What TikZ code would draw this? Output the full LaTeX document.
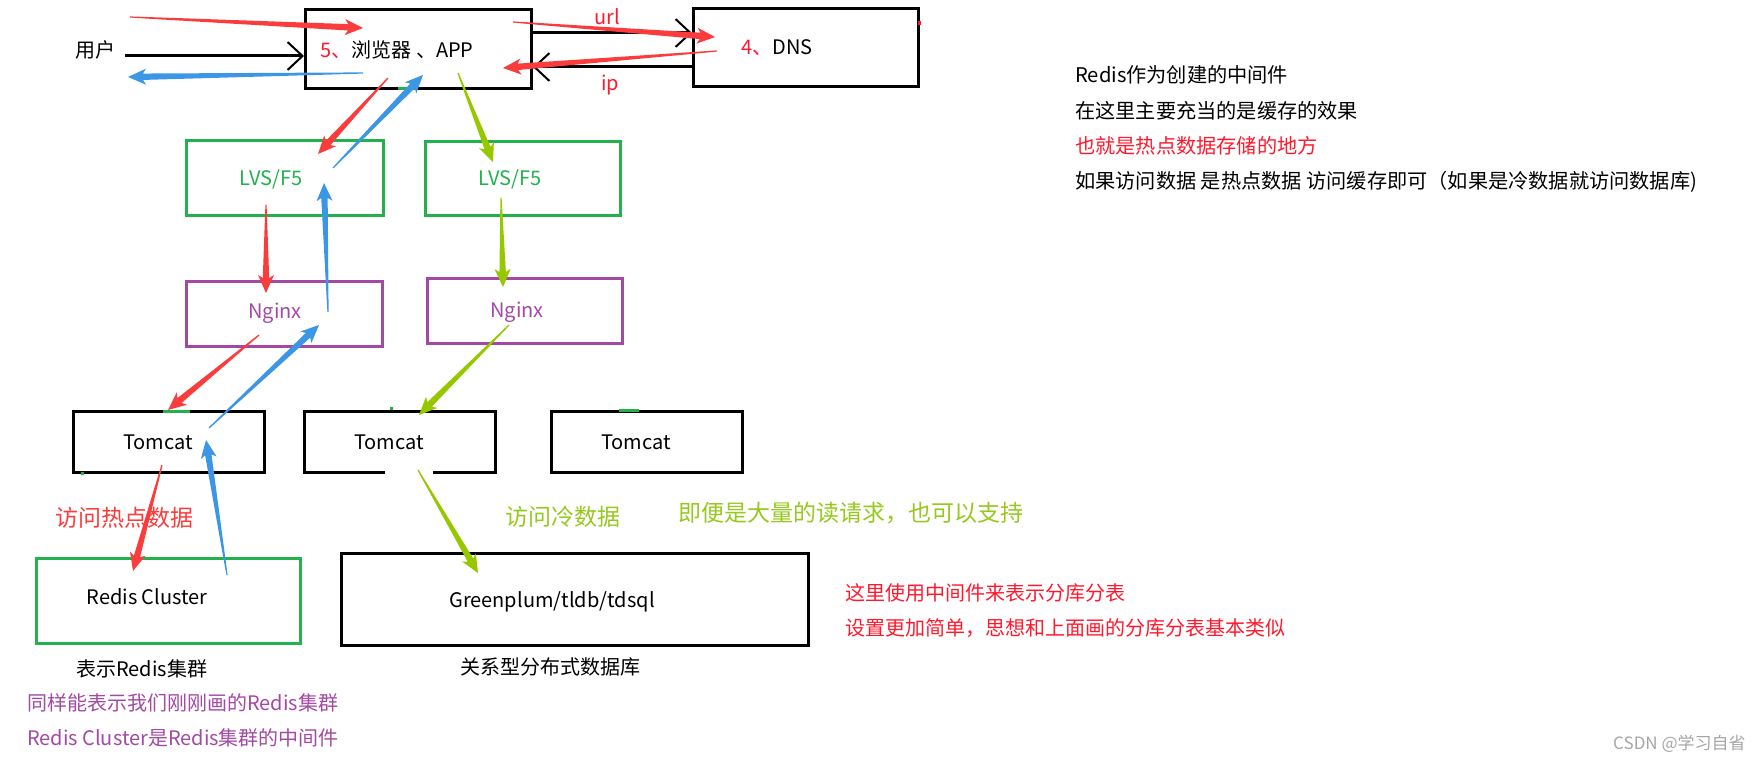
\documentclass[tikz,border=0pt]{standalone}
\usepackage{fontspec}
\setmainfont{Noto Sans CJK SC}
\usepackage{xcolor}
\usepackage{tikz}
\usetikzlibrary{arrows.meta,calc}
\definecolor{arR}{RGB}{250,60,60}
\definecolor{arB}{RGB}{60,150,230}
\definecolor{arG}{RGB}{150,200,0}
\definecolor{txR}{RGB}{255,25,45}
\definecolor{txG}{RGB}{150,200,30}
\definecolor{boxG}{RGB}{34,177,76}
\definecolor{boxP}{RGB}{163,73,164}
\definecolor{gry}{RGB}{165,165,165}
\tikzset{
  box/.style={draw,line width=3pt,inner sep=0},
  lbl/.style={inner sep=0,font=\fontsize{20}{24}\selectfont,text height=15pt,text depth=0pt},
  note/.style={lbl,anchor=west,font=\fontsize{20.2}{24}\selectfont},
  big/.style={lbl,anchor=west,font=\fontsize{23}{27}\selectfont,text height=17pt},
  barb/.style={line width=3pt,-{Straight Barb[length=15pt,width=28pt,line width=2pt]}}
}
% tapered arrow: colour, tail, tip
\newcommand\tailarrow[3]{%
  \path (#2) coordinate (ta) (#3) coordinate (tb);
  \path ($(tb)!15pt!(ta)$) coordinate (tc) ($(tb)!18pt!(ta)$) coordinate (td);
  \fill[#1] ($(ta)!0.6pt!90:(tb)$) -- ($(tc)!3.2pt!90:(tb)$) -- ($(td)!8pt!90:(tb)$) -- (tb)
    -- ($(td)!8pt!-90:(tb)$) -- ($(tc)!3.2pt!-90:(tb)$) -- ($(ta)!0.6pt!-90:(tb)$) -- cycle;}
\begin{document}
\begin{tikzpicture}[x=1pt,y=-1pt]
\useasboundingbox (0,0) rectangle (1761,762);
% boxes
\node[box,minimum width=226,minimum height=79] (browser) at (418.5,49) {};
\node[box,minimum width=225,minimum height=78] (dns) at (806,47.5) {};
\node[box,boxG,minimum width=197,minimum height=75] (lvsA) at (285,178) {};
\node[box,boxG,minimum width=195,minimum height=74] (lvsB) at (523,178.5) {};
\node[box,boxP,minimum width=196,minimum height=65] (nginxA) at (284.5,314) {};
\node[box,boxP,minimum width=195,minimum height=65] (nginxB) at (525,311) {};
\node[box,minimum width=191,minimum height=61] (tomcatA) at (169,442) {};
\node[box,minimum width=191,minimum height=61] (tomcatB) at (400,442) {};
\node[box,minimum width=191,minimum height=61] (tomcatC) at (647,442) {};
\node[box,boxG,minimum width=264,minimum height=85] (redis) at (168.5,601) {};
\node[box,minimum width=467,minimum height=92] (gp) at (575,599.5) {};
% box texts
\node[lbl] (browserlbl) at ([shift={(-21.5,1)}]browser.center) {\textcolor{txR}{5、}浏览器 、APP};
\node[lbl] (dnslbl) at ([shift={(-29,0)}]dns.center) {\textcolor{txR}{4、}DNS};
\node[lbl,boxG] (lvsAlbl) at ([shift={(-14,0)}]lvsA.center) {LVS/F5};
\node[lbl,boxG] (lvsBlbl) at ([shift={(-13,0)}]lvsB.center) {LVS/F5};
\node[lbl,boxP] (nginxAlbl) at ([shift={(-9.5,-3)}]nginxA.center) {Nginx};
\node[lbl,boxP] (nginxBlbl) at ([shift={(-8,-1)}]nginxB.center) {Nginx};
\node[lbl] (tomcatAlbl) at ([shift={(-11,0)}]tomcatA.center) {Tomcat};
\node[lbl] (tomcatBlbl) at ([shift={(-11,0)}]tomcatB.center) {Tomcat};
\node[lbl] (tomcatClbl) at ([shift={(-11,0)}]tomcatC.center) {Tomcat};
\node[lbl] (redislbl) at ([shift={(-21.5,-4)}]redis.center) {Redis Cluster};
\node[lbl] (gplbl) at ([shift={(-23,0)}]gp.center) {Greenplum/tldb/tdsql};
% other texts
\node[lbl] (user) at (95,50) {用户};
\node[lbl,txR] (url) at (607,17) {url};
\node[lbl,txR] (ip) at (610,83) {ip};
\node[note] (noteA) at (1075,75) {Redis作为创建的中间件};
\node[note] (noteB) at (1075,111) {在这里主要充当的是缓存的效果};
\node[note,txR] (noteC) at (1075,146) {也就是热点数据存储的地方};
\node[note] (noteD) at (1075,181) {如果访问数据 是热点数据 访问缓存即可（如果是冷数据就访问数据库)};
\node[big,arR] (hot) at (55,518) {访问热点数据};
\node[big,txG] (cold) at (505,517) {访问冷数据};
\node[big,txG] (load) at (678,513) {即便是大量的读请求，也可以支持};
\node[lbl,anchor=west,txR] (shardA) at (845,593) {这里使用中间件来表示分库分表};
\node[lbl,anchor=west,txR] (shardB) at (845,628) {设置更加简单，思想和上面画的分库分表基本类似};
\node[lbl,anchor=west] (redisnote) at (76,669) {表示Redis集群};
\node[lbl,anchor=west,boxP] (redisA) at (27,703) {同样能表示我们刚刚画的Redis集群};
\node[lbl,anchor=west,boxP] (redisB) at (27,738) {Redis Cluster是Redis集群的中间件};
\node[lbl,anchor=west] (gpnote) at (460,667) {关系型分布式数据库};
\node[anchor=west,inner sep=0,gry,font=\fontsize{17}{20}\selectfont] (mark) at (1613,744) {CSDN @学习自省};
% thin black arrows
\draw[barb] ([shift={(10,6)}]user.east) -- ([shift={(0,7)}]browser.west);
\draw[barb] ([shift={(0,-16)}]browser.east) -- ([shift={(0,-14.5)}]dns.west);
\draw[barb] ([shift={(0,19.5)}]dns.west) -- ([shift={(0,18)}]browser.east);
% small marks
\draw[boxG,line width=3pt] (163,411) -- (190,411) (619,410) -- (639,410) (398,89) -- (416,89);
\fill[boxG] (390,407) rectangle (393,410) (81,472) rectangle (84,475);
\fill[txR] (918,21) rectangle (921,25);
\draw[white,line width=3.5pt] (385,472.5) -- (433,472.5);
% request (red)
\coordinate (in) at (130,17);
\coordinate (out) at (128,77);
\tailarrow{arR}{in}{[shift={(-55.5,-21)}]browser.center}
\tailarrow{arR}{[shift={(94.5,-27)}]browser.center}{[shift={(-91,-10.5)}]dns.center}
\tailarrow{arR}{[shift={(-89,3.5)}]dns.center}{[shift={(84.5,19)}]browser.center}
\tailarrow{arR}{[shift={(-30.5,29)}]browser.center}{[shift={(33,-24)}]lvsA.center}
\tailarrow{arR}{[shift={(-19,27)}]lvsA.center}{[shift={(-18.5,-21)}]nginxA.center}
\tailarrow{arR}{[shift={(-25.5,21)}]nginxA.center}{[shift={(-1,-32)}]tomcatA.center}
\tailarrow{arR}{[shift={(-7,23)}]tomcatA.center}{[shift={(-35.5,-30)}]redis.center}
% response (blue)
\tailarrow{arB}{[shift={(58.5,-26)}]redis.center}{[shift={(37,-2)}]tomcatA.center}
\tailarrow{arB}{[shift={(40,-14)}]tomcatA.center}{[shift={(34.5,11)}]nginxA.center}
\tailarrow{arB}{[shift={(43.5,-2)}]nginxA.center}{[shift={(39,5)}]lvsA.center}
\tailarrow{arB}{[shift={(48,-10)}]lvsA.center}{[shift={(4.5,26)}]browser.center}
\tailarrow{arB}{[shift={(-55.5,24)}]browser.center}{out}
% cold path (green)
\tailarrow{arG}{[shift={(39.5,24)}]browser.center}{[shift={(-30,-16.5)}]lvsB.center}
\tailarrow{arG}{[shift={(-22,19.5)}]lvsB.center}{[shift={(-22,-24)}]nginxB.center}
\tailarrow{arG}{[shift={(-16,14)}]nginxB.center}{[shift={(19,-27)}]tomcatB.center}
\tailarrow{arG}{[shift={(18,28)}]tomcatB.center}{[shift={(-97,-26.5)}]gp.center}
\end{tikzpicture}
\end{document}
